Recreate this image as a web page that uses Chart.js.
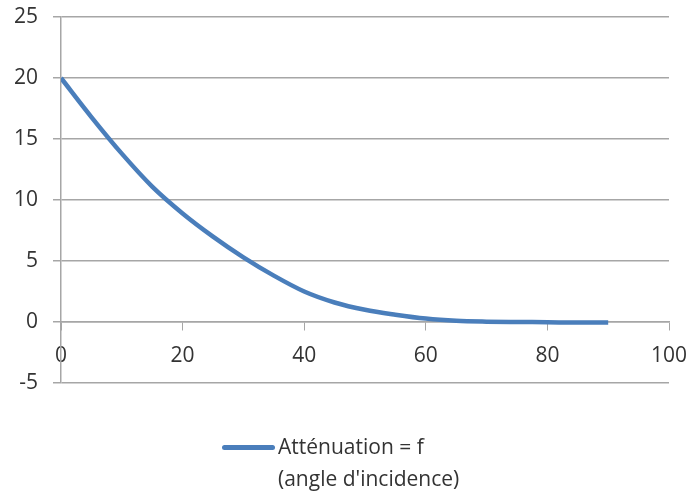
<!DOCTYPE html>
<html>
<head>
<meta charset="utf-8">
<script src="https://cdn.jsdelivr.net/npm/chart.js@4/dist/chart.umd.min.js"></script>
<style>
  html, body { margin: 0; padding: 0; background: #fff; }
  #wrap { position: relative; width: 696px; height: 492px; }
  #legend {
    position: absolute; left: 222px; top: 430px;
    font-family: "Open Sans", sans-serif; font-size: 21px; line-height: 32px; color: #333;
  }
  #legend .swatch {
    position: absolute; left: 0; top: 15px; width: 53px; height: 5px;
    background: #4a7ebb; border-radius: 3px;
  }
  #legend .text { margin-left: 56px; }
</style>
</head>
<body>
<div id="wrap">
  <canvas id="attChart" width="696" height="492"></canvas>
  <div id="legend"><span class="swatch"></span><div class="text">Atténuation = f<br>(angle d'incidence)</div></div>
</div>
<script>
const angles = [0, 5, 10, 15, 20, 25, 30, 35, 40, 45, 50, 55, 60, 65, 70, 75, 80, 85, 90];
const attenuation = [20, 16.8, 13.8, 11.1, 8.9, 7.0, 5.3, 3.8, 2.5, 1.6, 1.0, 0.6, 0.28, 0.1, 0.03, 0, -0.02, -0.05, -0.05];
const xTicks = [0, 20, 40, 60, 80, 100];
const yTicks = [-5, 0, 5, 10, 15, 20, 25];

const ctx = document.getElementById("attChart").getContext("2d");
const gridColor = "#a6a6a6";
const textColor = "#333";

// no extra room for the edge labels, the plot box is set by layout padding
const noEdgePad = (s) => {
  s.paddingTop = 0;
  s.paddingBottom = 0;
  s.paddingLeft = 0;
  s.paddingRight = 0;
};

// Attenuation curve
new Chart(ctx, {
  type: "line",
  data: {
    datasets: [
      {
        label: "Atténuation = f (angle d'incidence)",
        data: angles.map((a, i) => ({ x: a, y: attenuation[i] })),
        borderColor: "#4a7ebb",
        borderWidth: 4.5,
        pointRadius: 0,
        cubicInterpolationMode: "monotone",
        fill: false,
      },
    ],
  },
  options: {
    responsive: false,
    animation: false,
    layout: {
      padding: { left: 0, top: 17, right: 27, bottom: 109 },
    },
    plugins: {
      legend: { display: false },
      tooltip: { enabled: false },
    },
    scales: {
      x: {
        type: "linear",
        position: { y: 0 },
        min: xTicks[0],
        max: xTicks[xTicks.length - 1],
        afterBuildTicks: (s) => { s.ticks = xTicks.map((v) => ({ value: v })); },
        afterFit: noEdgePad,
        grid: {
          drawOnChartArea: false,
          color: gridColor,
          tickLength: 8,
        },
        border: { color: gridColor, width: 1.5 },
        ticks: {
          padding: 13,
          maxRotation: 0,
          color: textColor,
          font: { family: "Open Sans", size: 21 },
        },
      },
      y: {
        min: yTicks[0],
        max: yTicks[yTicks.length - 1],
        afterBuildTicks: (s) => { s.ticks = yTicks.map((v) => ({ value: v })); },
        afterFit: (s) => {
          noEdgePad(s);
          s.width = 61;
        },
        grid: {
          color: gridColor,
          lineWidth: 1.5,
          tickLength: 8,
        },
        border: { color: gridColor, width: 1.5 },
        ticks: {
          padding: 15,
          color: textColor,
          font: { family: "Open Sans", size: 21 },
        },
      },
    },
  },
});
</script>
</body>
</html>
